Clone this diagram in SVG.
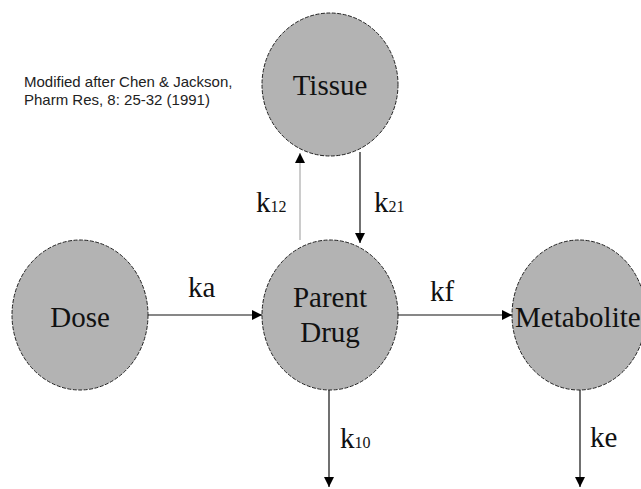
<svg xmlns="http://www.w3.org/2000/svg" width="641" height="489" viewBox="0 0 641 489">
<defs>
<style>
.node{fill:#b3b3b3;stroke:#222;stroke-width:1;stroke-dasharray:4 1.5}
.lbl{font-size:29px;fill:#111}
.sub{font-size:16px}
.note{font-size:15px;fill:#222}
.edge{stroke:#111;stroke-width:1.2;fill:none}
.thin{stroke:#999;stroke-width:1;fill:none}
</style>
<marker id="ah" viewBox="0 0 10 10" refX="10" refY="5" markerWidth="10" markerHeight="10" markerUnits="userSpaceOnUse" orient="auto">
<path d="M0,0 L10,5 L0,10 Z" fill="#000"/>
</marker>
</defs>
<rect width="641" height="489" fill="#fff"/>
<g font-family="Liberation Sans, Arial, sans-serif">
<text class="note" x="24" y="87">Modified after Chen &amp; Jackson,</text>
<text class="note" x="24" y="105">Pharm Res, 8: 25-32 (1991)</text>
</g>
<g font-family="Liberation Serif, Times New Roman, DejaVu Serif, serif">
<g id="tissue">
<ellipse class="node" cx="330" cy="84.5" rx="68" ry="71.5"/>
<text class="lbl" x="330" y="95" text-anchor="middle">Tissue</text>
</g>
<g id="dose">
<ellipse class="node" cx="80" cy="315" rx="68" ry="75"/>
<text class="lbl" x="80" y="327" text-anchor="middle">Dose</text>
</g>
<g id="parent">
<ellipse class="node" cx="330" cy="315" rx="68" ry="75"/>
<text class="lbl" x="330" y="307" text-anchor="middle">Parent</text>
<text class="lbl" x="330" y="342" text-anchor="middle">Drug</text>
</g>
<g id="metabolite">
<ellipse class="node" cx="579" cy="315" rx="67" ry="75"/>
<text class="lbl" x="515" y="327">Metabolite</text>
</g>
<g id="connectors">
<line class="edge" x1="148" y1="315" x2="262" y2="315" marker-end="url(#ah)"/>
<line class="edge" x1="398" y1="315" x2="512" y2="315" marker-end="url(#ah)"/>
<line class="thin" x1="300" y1="240" x2="300" y2="153" marker-end="url(#ah)"/>
<line class="edge" x1="360" y1="152" x2="360" y2="243" marker-end="url(#ah)"/>
<line class="edge" x1="329" y1="390" x2="329" y2="487" marker-end="url(#ah)"/>
<line class="edge" x1="580" y1="390" x2="580" y2="487" marker-end="url(#ah)"/>
<text class="lbl" x="188" y="297">ka</text>
<text class="lbl" x="430" y="301">kf</text>
<text class="lbl" x="256" y="212">k<tspan class="sub">12</tspan></text>
<text class="lbl" x="374" y="212">k<tspan class="sub">21</tspan></text>
<text class="lbl" x="340" y="448">k<tspan class="sub">10</tspan></text>
<text class="lbl" x="590" y="447">ke</text>
</g>
</g>
</svg>
